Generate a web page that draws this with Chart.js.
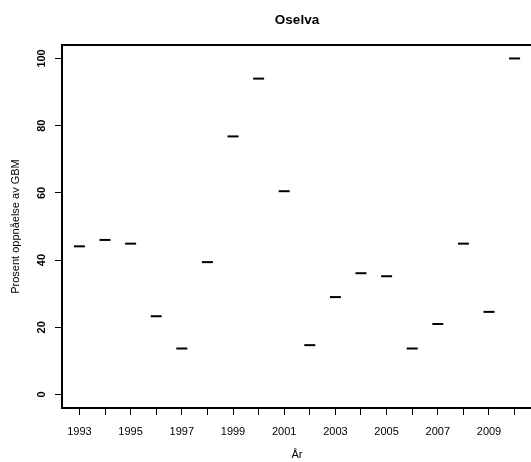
<!DOCTYPE html>
<html>
<head>
<meta charset="utf-8">
<script src="https://cdn.jsdelivr.net/npm/chart.js@4/dist/chart.umd.min.js"></script>
<style>
  html, body { margin: 0; padding: 0; overflow: hidden; background: #fff; }
  #wrap { width: 540px; height: 462px; }
</style>
</head>
<body>
<div id="wrap"><canvas id="grafico"></canvas></div>
<script>
// data
const years = [1993, 1994, 1995, 1996, 1997, 1998, 1999, 2000, 2001, 2002,
               2003, 2004, 2005, 2006, 2007, 2008, 2009, 2010];
const prosent = [44.1, 46.0, 44.9, 23.3, 13.7, 39.4, 76.8, 94.0, 60.5, 14.7,
                 29.0, 36.1, 35.2, 13.7, 21.0, 44.9, 24.6, 100];
const yTicks = [0, 20, 40, 60, 80, 100];

Chart.defaults.font.family = "'Liberation Sans', Arial, sans-serif";
Chart.defaults.color = "#000";

// R style box around the plot region
const boxPlugin = {
  id: "box",
  afterDraw(chart) {
    const a = chart.chartArea;
    const ctx = chart.ctx;
    ctx.save();
    ctx.strokeStyle = "#000";
    ctx.lineWidth = 2;
    ctx.strokeRect(a.left, a.top, a.right - a.left, a.bottom - a.top);
    ctx.restore();
  },
};

const ctx = document.getElementById("grafico").getContext("2d");
new Chart(ctx, {
  type: "scatter",
  data: {
    datasets: [
      {
        label: "Oselva",
        data: years.map((y, i) => ({ x: y, y: prosent[i] })),
        pointStyle: "line",
        radius: 5.5,
        borderWidth: 2,
        borderColor: "#000",
        backgroundColor: "#000",
      },
    ],
  },
  plugins: [boxPlugin],
  options: {
    responsive: true,
    maintainAspectRatio: false,
    animation: false,
    layout: { padding: { left: 0, right: 8, top: 0, bottom: 0 } },
    plugins: {
      legend: { display: false },
      tooltip: { enabled: false },
      title: {
        display: true,
        text: "Oselva",
        fullSize: false,
        font: { size: 13.5, weight: "bold" },
        padding: { top: 12, bottom: 16.8 },
      },
    },
    scales: {
      x: {
        type: "linear",
        min: 1992.32,
        max: 2010.68,
        afterBuildTicks: (s) => { s.ticks = years.map((v) => ({ value: v })); },
        afterFit: (s) => { s.height = 54; },
        border: { display: false },
        grid: { drawOnChartArea: false, drawTicks: true, tickLength: 7, color: "#000", lineWidth: 1 },
        ticks: {
          autoSkip: false,
          maxRotation: 0,
          padding: 10,
          font: { size: 11 },
          callback: (v) => (v % 2 === 1 ? String(v) : ""),
        },
        title: { display: true, text: "År", font: { size: 11 }, padding: { top: 0, bottom: 0.5 } },
      },
      y: {
        type: "linear",
        min: -4,
        max: 104,
        afterBuildTicks: (s) => { s.ticks = yTicks.map((v) => ({ value: v })); },
        afterFit: (s) => { s.width = 62; },
        border: { display: false },
        grid: { drawOnChartArea: false, drawTicks: true, tickLength: 7, color: "#000", lineWidth: 1 },
        ticks: {
          minRotation: 90,
          maxRotation: 90,
          crossAlign: "center",
          padding: 4.3,
          font: { size: 11, weight: "bold" },
          callback: (v) => String(v),
        },
        title: {
          display: true,
          text: "Prosent oppnåelse av GBM",
          font: { size: 11 },
          padding: { top: 9, bottom: 0 },
        },
      },
    },
  },
});
</script>
</body>
</html>
